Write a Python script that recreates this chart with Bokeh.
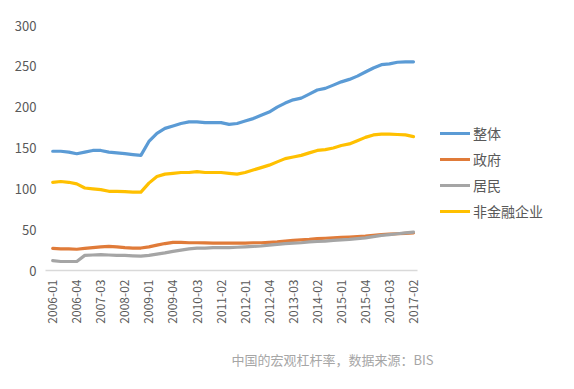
from bokeh.plotting import figure
from bokeh.models import FixedTicker, Legend, LegendItem, Title, Range1d
from bokeh.embed import file_html
from bokeh.resources import INLINE
import math

tick_labels = ["2006-01", "2006-04", "2007-03", "2008-02", "2009-01", "2009-04",
               "2010-03", "2011-02", "2012-01", "2012-04", "2013-03", "2014-02",
               "2015-01", "2015-04", "2016-03", "2017-02"]
tick_idx = [0, 3, 6, 9, 12, 15, 18, 21, 24, 27, 30, 33, 36, 39, 42, 45]

total = [146, 146, 145, 143, 145, 147, 147, 145, 144, 143, 142, 141,
         158, 168, 174, 177, 180, 182, 182, 181, 181, 181, 179, 180,
         183, 186, 190, 194, 200, 205, 209, 211, 216, 221, 223, 227,
         231, 234, 238, 243, 248, 252, 253, 255, 255.5, 255.5]
gov = [27, 26.5, 26.5, 26, 27, 28, 29, 29.5, 29, 28, 27.5, 27.5,
       29, 31, 33, 34.5, 34.5, 34, 34, 33.8, 33.5, 33.5, 33.5, 33.5,
       33.5, 34, 34, 34.5, 35, 36, 37, 37.5, 38, 39, 39.5, 40,
       40.5, 41, 41.5, 42, 43, 44, 44.5, 45, 45.5, 46]
household = [12, 11, 11, 11, 18.5, 19, 19.5, 19, 18.5, 18.5, 18, 17.5,
             18.5, 20, 21.5, 23.5, 25, 26.5, 27.5, 27.5, 28, 28, 28, 28.5,
             29, 29.5, 30, 31, 32, 33, 33.5, 34, 35, 35.5, 36, 37,
             37.5, 38, 39, 40, 41.5, 43, 44, 45, 46, 47]
corp = [108, 109, 108, 106, 101, 100, 99, 97, 97, 96.5, 96, 96,
        107, 115, 118, 119, 120, 120, 121, 120, 120, 120, 119, 118,
        120, 123, 126, 129, 133, 137, 139, 141, 144, 147, 148, 150,
        153, 155, 159, 163, 166, 167, 167, 166.5, 166, 164]

names = ["整体", "政府", "居民", "非金融企业"]
colors = ["#5B9BD5", "#E07B39", "#A5A5A5", "#FFC000"]
series = [total, gov, household, corp]

FONT = "Noto Sans CJK SC"

# frame spans to the right edge so the legend is not clipped; axis line is bounded
p = figure(width=566, height=389, output_backend="svg", toolbar_location=None,
           x_range=Range1d(-0.9, 63.34), y_range=Range1d(0, 300),
           min_border_left=45, min_border_right=6, min_border_top=25,
           min_border_bottom=118)
p.outline_line_color = None
p.xgrid.visible = False
p.ygrid.visible = False
p.background_fill_color = "white"

x = list(range(len(total)))
renderers = []
for name, col, ys in zip(names, colors, series):
    r = p.line(x, ys, line_color=col, line_width=3.2, line_join="round", line_cap="round")
    renderers.append((name, r))

# x axis
p.xaxis.bounds = (-0.9, 45.5)
p.xaxis.ticker = FixedTicker(ticks=tick_idx)
p.xaxis.major_label_overrides = {i: t for i, t in zip(tick_idx, tick_labels)}
p.xaxis.major_label_orientation = math.pi / 2
p.xaxis.major_label_text_font = FONT
p.xaxis.major_label_text_font_size = "12px"
p.xaxis.major_label_text_color = "#595959"
p.xaxis.major_label_standoff = 9
p.xaxis.major_tick_out = 0
p.xaxis.major_tick_in = 0
p.xaxis.axis_line_color = "#d9d9d9"
p.xaxis.axis_line_width = 1.5
p.xaxis.major_tick_line_color = None
p.xaxis.minor_tick_line_color = None

# y axis
p.yaxis.ticker = FixedTicker(ticks=[0, 50, 100, 150, 200, 250, 300])
p.yaxis.major_label_text_font = FONT
p.yaxis.major_label_text_font_size = "13px"
p.yaxis.major_label_text_color = "#595959"
p.yaxis.major_label_standoff = 9
p.yaxis.major_tick_out = 0
p.yaxis.major_tick_in = 0
p.yaxis.axis_line_color = None
p.yaxis.major_tick_line_color = None
p.yaxis.minor_tick_line_color = None

legend = Legend(items=[LegendItem(label=n, renderers=[r]) for n, r in renderers],
                location=(395, 49), orientation="vertical")
legend.margin = 0
legend.padding = 0
legend.spacing = 6
legend.glyph_width = 30
legend.glyph_height = 20
legend.label_height = 20
legend.label_standoff = 3
legend.label_text_font = FONT
legend.label_text_font_size = "14px"
legend.label_text_color = "#595959"
legend.border_line_color = None
legend.background_fill_alpha = 0
p.add_layout(legend)

caption = Title(text="中国的宏观杠杆率，数据来源：BIS", align="left", offset=186,
                text_font=FONT, text_font_size="13px", text_color="#a6a6a6",
                text_font_style="normal", standoff=42)
p.add_layout(caption, "below")

open("out.html", "w").write(file_html(p, INLINE))
